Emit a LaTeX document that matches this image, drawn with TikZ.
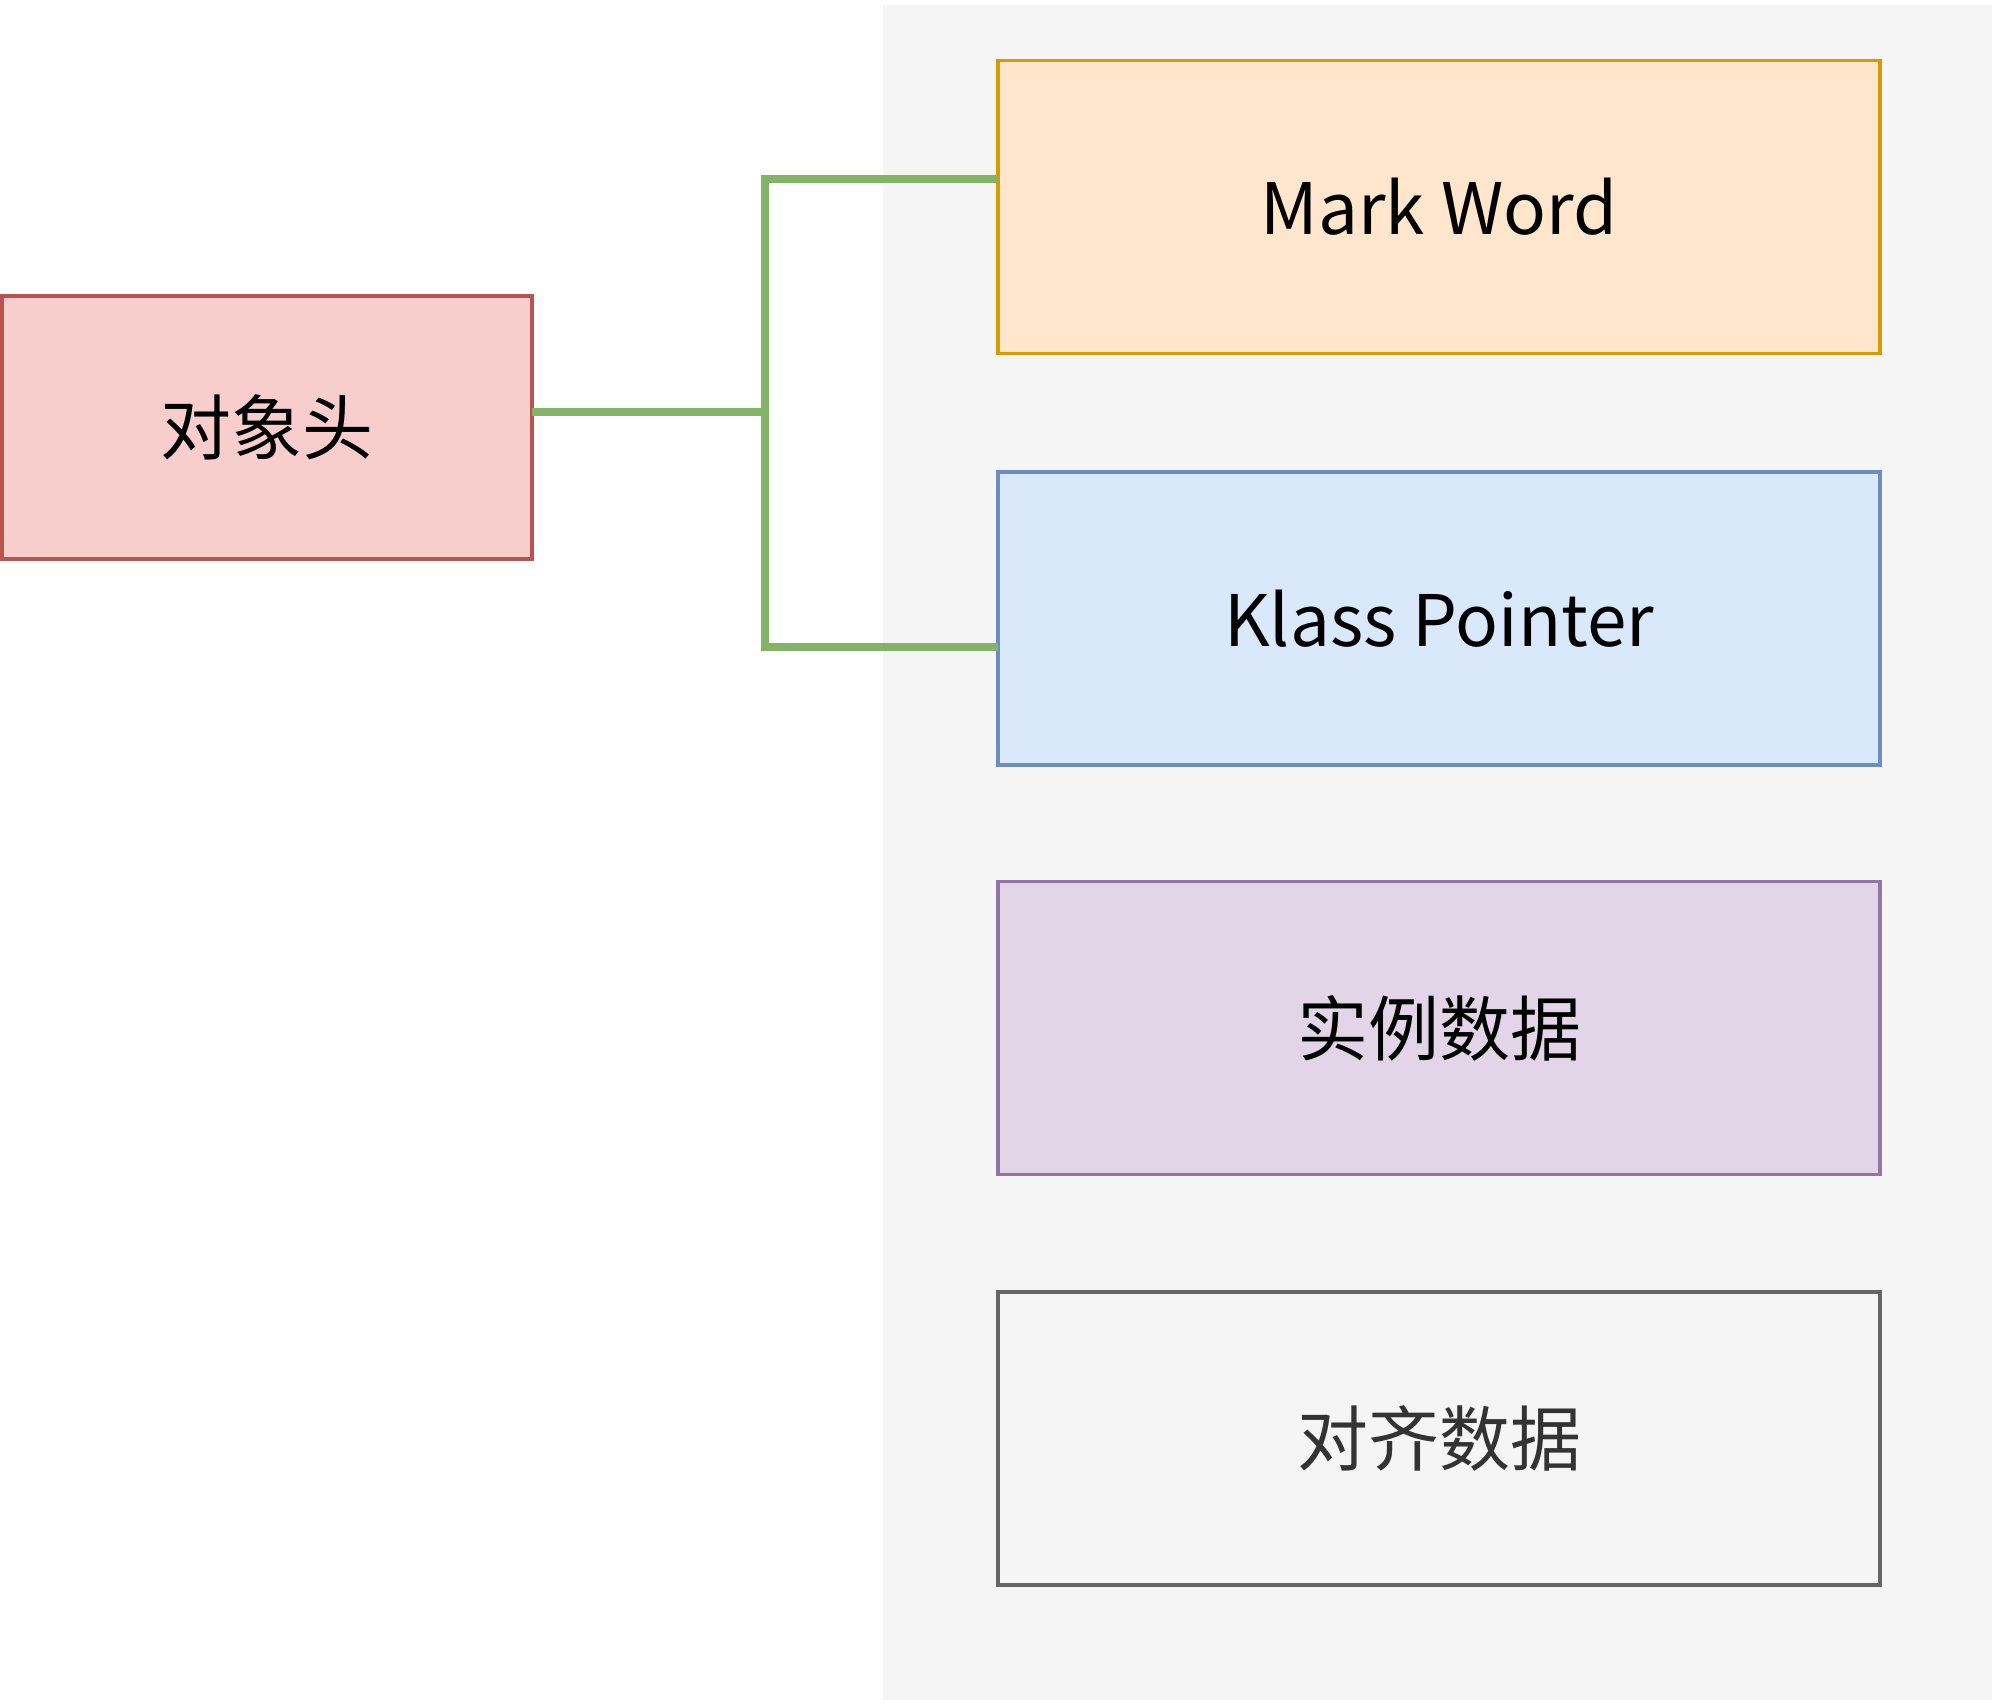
\documentclass[tikz,border=0pt]{standalone}
\usepackage{fontspec}
\setmainfont{Noto Sans CJK SC}
\definecolor{bgpanel}{HTML}{F5F5F5}
\definecolor{orfill}{HTML}{FFE6CC}\definecolor{orline}{HTML}{D79B00}
\definecolor{blfill}{HTML}{DAE8FC}\definecolor{blline}{HTML}{6C8EBF}
\definecolor{pufill}{HTML}{E1D5E7}\definecolor{puline}{HTML}{9673A6}
\definecolor{grfill}{HTML}{F5F5F5}\definecolor{grline}{HTML}{666666}\definecolor{grtext}{HTML}{333333}
\definecolor{rdfill}{HTML}{F8CECC}\definecolor{rdline}{HTML}{B85450}
\definecolor{gnline}{HTML}{82B366}
\begin{document}
\begin{tikzpicture}[x=0.3pt,y=-0.3pt,
  box/.style={draw,line width=1pt,inner sep=0pt,outer sep=0pt,
    minimum width=264.6pt,minimum height=87.9pt,
    font=\fontsize{21.3}{25}\selectfont},
  conn/.style={draw=gnline,line width=2.5pt}]
\useasboundingbox[fill=white] (0,0) rectangle (2000,1707);
\fill[bgpanel] (883,5) rectangle (1992,1700);
\node[box,fill=orfill,draw=orline] (mw) at (1439,207) {\raisebox{-1.5pt}{Mark Word}};
\node[box,fill=blfill,draw=blline] (kp) at (1439,618.5) {\raisebox{-1.5pt}{Klass Pointer}};
\node[box,fill=pufill,draw=puline] (inst) at (1439,1028) {\raisebox{-1.5pt}{实例数据}};
\node[box,fill=grfill,draw=grline,text=grtext] (align) at (1439,1438.5) {\raisebox{-1.5pt}{对齐数据}};
\node[box,fill=rdfill,draw=rdline,minimum width=159pt,minimum height=78.9pt] (obj) at (267,427.5) {\raisebox{-1.5pt}{对象头}};
\coordinate (jt) at (765,179);
\coordinate (jm) at (765,412);
\coordinate (jb) at (765,647);
\draw[conn] (mw.west |- jt) -- (jt) -- (jb) -- (kp.west |- jb);
\draw[conn] (obj.east |- jm) -- (jm);
\end{tikzpicture}
\end{document}
